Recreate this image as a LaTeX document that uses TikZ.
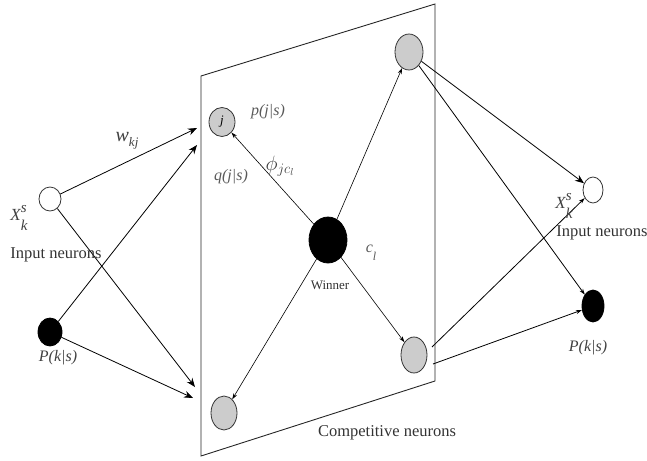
\documentclass[tikz,border=0pt]{standalone}
\usepackage{fontspec}
\setmainfont{Liberation Serif}
\usetikzlibrary{shapes.geometric,arrows.meta}
\begin{document}
\begin{tikzpicture}[x=1pt,y=-1pt,
  neuron/.style={ellipse,draw=black!80,line width=0.8pt,inner sep=0pt},
  whiten/.style={neuron,fill=white},
  blackn/.style={neuron,fill=black,draw=black},
  compn/.style={neuron,fill=black!20},
  conn/.style={draw=black,line width=0.8pt},
  bigarr/.style={conn,-{Stealth[length=9pt,width=7pt]}},
  smallarr/.style={conn,line width=0.6pt,-{Stealth[length=6pt,width=4pt]}},
  txt/.style={inner sep=0pt,font=\fontsize{16.5}{18}\selectfont,text=black!80},
  itl/.style={inner sep=0pt,font=\fontsize{16}{18}\selectfont\itshape,text=black!75},
]
\useasboundingbox (0,0) rectangle (647,460);
% plane
\draw[line width=0.9pt,draw=black!85] (201,76) coordinate (pa) -- (435,4) coordinate (pb) -- (435,381) coordinate (pc) -- (201,456) coordinate (pd) -- cycle;
% neurons
\node[whiten,minimum width=22pt,minimum height=24pt] (inL) at (50,199) {};
\node[blackn,minimum width=24pt,minimum height=28pt] (pL) at (50,332) {};
\node[compn,minimum width=26pt,minimum height=29pt,font=\fontsize{13}{15}\selectfont\itshape] (j) at (222,122) {j};
\node[blackn,minimum width=38pt,minimum height=46pt] (win) at (328,240) {};
\node[compn,minimum width=28pt,minimum height=36pt] (tr) at (409,52) {};
\node[compn,minimum width=26pt,minimum height=36pt] (br) at (414,355) {};
\node[compn,minimum width=26pt,minimum height=34pt] (bl) at (224,413) {};
\node[whiten,minimum width=20pt,minimum height=26pt] (inR) at (593,190) {};
\node[blackn,minimum width=22pt,minimum height=32pt] (pR) at (593,306) {};
% coordinates at plane edges
\coordinate (e1) at (197,128);
\coordinate (e2) at (197,145);
\coordinate (e3) at (195,387);
\coordinate (e4) at (193,398);
\coordinate (s1) at (432,347);
\coordinate (s2) at (433,364);
% input connections
\draw[bigarr] (inL) -- (e1);
\draw[bigarr] (pL) -- (e2);
\draw[bigarr] (inL) -- (e3);
\draw[bigarr] (pL) -- (e4);
% winner connections
\draw[smallarr] (win) -- (j);
\draw[smallarr] (win) -- (tr);
\draw[smallarr] (win) -- (bl);
\draw[smallarr] (win) -- (br);
% output connections
\draw[bigarr] (tr) -- (inR);
\draw[smallarr,line width=0.8pt] (tr) -- (pR);
\draw[smallarr,line width=0.8pt] (s1) -- (inR);
\draw[smallarr,line width=0.8pt] (s2) -- (pR);
% labels
\node[itl,font=\fontsize{20}{22}\selectfont\itshape] (wlab) at (127,141) {w\raisebox{-5pt}{\fontsize{13}{15}\selectfont kj}};
\node[itl,font=\fontsize{17}{19}\selectfont\itshape] (xl) at (19,218) {X\rlap{\raisebox{8pt}{\fontsize{15}{17}\selectfont s}}\raisebox{-10pt}{\fontsize{15}{17}\selectfont k}};
\node[txt] (inlab) at (56,255) {Input neurons};
\node[itl] (pkl) at (58,358) {P(k|s)};
\node[itl,text=black!65] (pjs) at (268,112) {p(j|s)};
\node[itl,text=black!65] (qjs) at (231,177) {q(j|s)};
\node[inner sep=0pt,text=black!75,font=\fontsize{20}{22}\selectfont] (phi) at (280,166) {$\phi_{jc_{\scriptscriptstyle l}}$};
\node[itl,text=black!65] (cl) at (371,253) {c\raisebox{-8pt}{\fontsize{12}{14}\selectfont l}};
\node[txt,font=\fontsize{13}{15}\selectfont] (winlab) at (330,285) {Winner};
\node[itl,font=\fontsize{17}{19}\selectfont\itshape] (xr) at (564,206) {X\rlap{\raisebox{8pt}{\fontsize{15}{17}\selectfont s}}\raisebox{-10pt}{\fontsize{15}{17}\selectfont k}};
\node[txt] (inlabR) at (602,233) {Input neurons};
\node[itl] (pkr) at (588,348) {P(k|s)};
\node[txt] (comp) at (387,433) {Competitive neurons};
\end{tikzpicture}
\end{document}
